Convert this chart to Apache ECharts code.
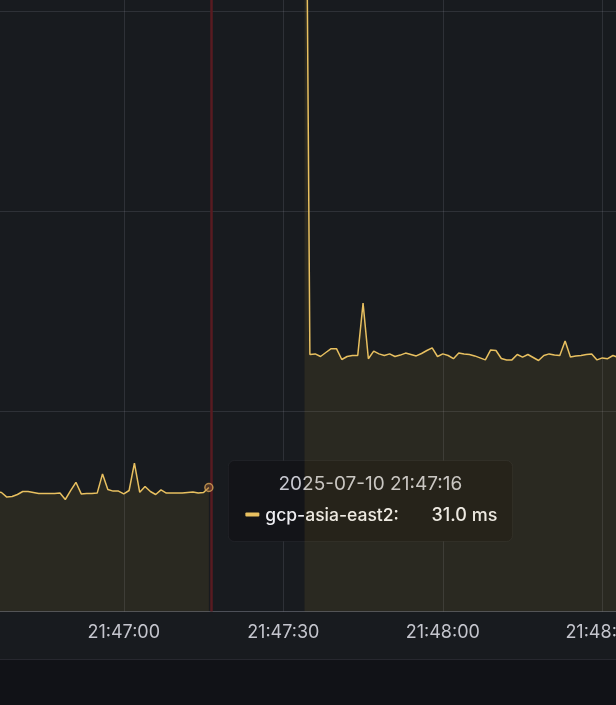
<!DOCTYPE html>
<html><head><meta charset="utf-8">
<script src="https://cdn.jsdelivr.net/npm/echarts@6/dist/echarts.min.js"></script>
<style>html,body{margin:0;padding:0;background:#181b1f;overflow:hidden}#c{width:616px;height:705px;}</style>
</head><body><div id="c"></div>
<script>
// ---- data ----
const seriesName = 'gcp-asia-east2';
const unit = 'ms';
const stepMs = 1000;
const segment1Start = '2025-07-10T21:46:36Z';
const segment1Values = [30.0, 29.75, 28.6, 28.75, 29.25, 30, 30, 29.75, 29.5, 29.5, 29.5, 29.5, 29.6, 28, 30.2, 32.3, 29.4, 29.5, 29.5, 29.6, 34.4, 30.5, 30.1, 30.1, 29.4, 30.25, 37.1, 29.8, 31.25, 30, 29.25, 30.4, 29.6, 29.6, 29.6, 29.6, 29.75, 29.9, 29.6, 29.75, 31.0];
const segment2Start = '2025-07-10T21:47:34Z';
const segment2Values = [250, 64.25, 64.4, 63.75, 64.75, 65.7, 65.7, 63, 63.75, 64, 64, 77.1, 63.2, 65.1, 64.4, 64, 64.4, 63.75, 64.1, 64.6, 64.25, 63.9, 64.5, 65.25, 65.9, 63.75, 64.4, 64, 63.2, 64.6, 64.4, 64.25, 63.9, 63.4, 62.9, 65.4, 65.25, 63.25, 62.9, 62.9, 64.25, 63.6, 64.25, 63.5, 62.75, 64, 64.4, 64.1, 64, 67.6, 63.6, 63.9, 64, 64.25, 64.4, 62.9, 63.4, 63.2, 64, 63.5];
const hoverTime = '2025-07-10T21:47:16Z';
const cursorTime = '2025-07-10T21:47:16.5Z';
const viewStart = '2025-07-10T21:46:36.72Z';
const viewEnd = '2025-07-10T21:48:32.57Z';
const xAxisMin = '2025-07-10T21:46:30Z';
const xAxisMax = '2025-07-10T21:49:00Z';
const xInterval = 30000;
const yMin = 0, yMax = 200, yInterval = 50;

// ---- build ----
const ms = s => Date.parse(s);
const pad = n => String(n).padStart(2, '0');
const fmtTime = v => { const d = new Date(v); return pad(d.getUTCHours()) + ':' + pad(d.getUTCMinutes()) + ':' + pad(d.getUTCSeconds()); };
const fmtDate = v => { const d = new Date(v); return d.getUTCFullYear() + '-' + pad(d.getUTCMonth() + 1) + '-' + pad(d.getUTCDate()) + ' ' + fmtTime(v); };

const s1 = segment1Values.map((v, i) => [ms(segment1Start) + i * stepMs, v]);
const s2 = segment2Values.map((v, i) => [ms(segment2Start) + i * stepMs, v]);
const data = s1.concat([[s1[s1.length - 1][0] + stepMs, null]], s2);
const hoverPoint = data.find(p => p[0] === ms(hoverTime));

const W = 616, H = 705;
const plotBottom = 611.5;
const pxPerMs = W / (ms(viewEnd) - ms(viewStart));
const gridLeft = -(ms(viewStart) - ms(xAxisMin)) * pxPerMs;
const gridRight = W - (gridLeft + (ms(xAxisMax) - ms(xAxisMin)) * pxPerMs);
const pxPerUnit = 4.0;
const gridTop = plotBottom - (yMax - yMin) * pxPerUnit;

const FONT = 'Inter, "Noto Sans", sans-serif';
const gridColor = 'rgba(204,204,220,0.13)';
const lineColor = '#E8C060';

const chart = echarts.init(document.getElementById('c'), null, {renderer: 'canvas'});
chart.setOption({
  backgroundColor: '#181b1f',
  animation: false,
  grid: {left: gridLeft, right: gridRight, top: gridTop, bottom: H - plotBottom, containLabel: false, outerBoundsMode: 'none'},
  xAxis: {
    type: 'value', min: ms(xAxisMin), max: ms(xAxisMax), interval: xInterval,
    axisLine: {show: true, lineStyle: {color: 'rgba(204,204,220,0.2)', width: 1}},
    axisTick: {show: false},
    splitLine: {show: true, lineStyle: {color: gridColor, width: 1}},
    axisLabel: {show: true, color: '#c4c5cd', fontFamily: FONT, fontSize: 18, margin: 12,
      showMinLabel: false, formatter: v => fmtTime(v)}
  },
  yAxis: {
    type: 'value', min: yMin, max: yMax, interval: yInterval,
    axisLine: {show: false}, axisTick: {show: false}, axisLabel: {show: false},
    splitLine: {show: true, lineStyle: {color: gridColor, width: 1}}
  },
  series: [{
    name: seriesName, type: 'line', data: data, showSymbol: false, connectNulls: false,
    lineStyle: {color: lineColor, width: 1.5}, itemStyle: {color: lineColor},
    areaStyle: {color: 'rgba(234,184,57,0.13)'}, clip: true,
    markLine: {silent: true, symbol: 'none', label: {show: false},
      lineStyle: {color: '#581b21', width: 2.5, type: 'solid'},
      data: [{xAxis: ms(cursorTime)}]}
  }, {
    type: 'scatter', data: [hoverPoint], symbol: 'circle', symbolSize: 8,
    itemStyle: {color: 'rgba(150,90,50,0.5)', borderColor: '#d4a356', borderWidth: 1.5}, z: 5
  }]
});

const p = chart.convertToPixel({gridIndex: 0}, hoverPoint);
const bx = p[0] + 19.5, by = p[1] - 27, bw = 284, bh = 81;
chart.setOption({
  graphic: [
    {type: 'rect', silent: true, z: 1, shape: {x: 0, y: 659, width: W, height: H - 659}, style: {fill: '#111217'}},
    {type: 'line', silent: true, z: 1, shape: {x1: 0, y1: 659.5, x2: W, y2: 659.5}, style: {stroke: 'rgba(204,204,220,0.12)', lineWidth: 1}},
    {type: 'group', z: 100, children: [
      {type: 'rect', shape: {x: bx, y: by, width: bw, height: bh, r: 6}, style: {fill: '#131418', stroke: 'rgba(204,204,220,0.06)', lineWidth: 1}},
      {type: 'text', style: {x: bx + bw / 2, y: by + 24, text: fmtDate(hoverPoint[0]), fill: '#c7c8d0', font: '400 19px ' + FONT, textAlign: 'center', textVerticalAlign: 'middle'}},
      {type: 'rect', shape: {x: bx + 17, y: by + 52, width: 14, height: 4, r: 1}, style: {fill: lineColor}},
      {type: 'text', style: {x: bx + 37, y: by + 55, text: seriesName + ':', fill: '#eeeef2', font: '500 17.5px ' + FONT, textAlign: 'left', textVerticalAlign: 'middle'}},
      {type: 'text', style: {x: bx + 269, y: by + 55, text: hoverPoint[1].toFixed(1) + ' ' + unit, fill: '#eeeef2', font: '500 18px ' + FONT, textAlign: 'right', textVerticalAlign: 'middle'}}
    ]}
  ]
});
</script></body></html>
